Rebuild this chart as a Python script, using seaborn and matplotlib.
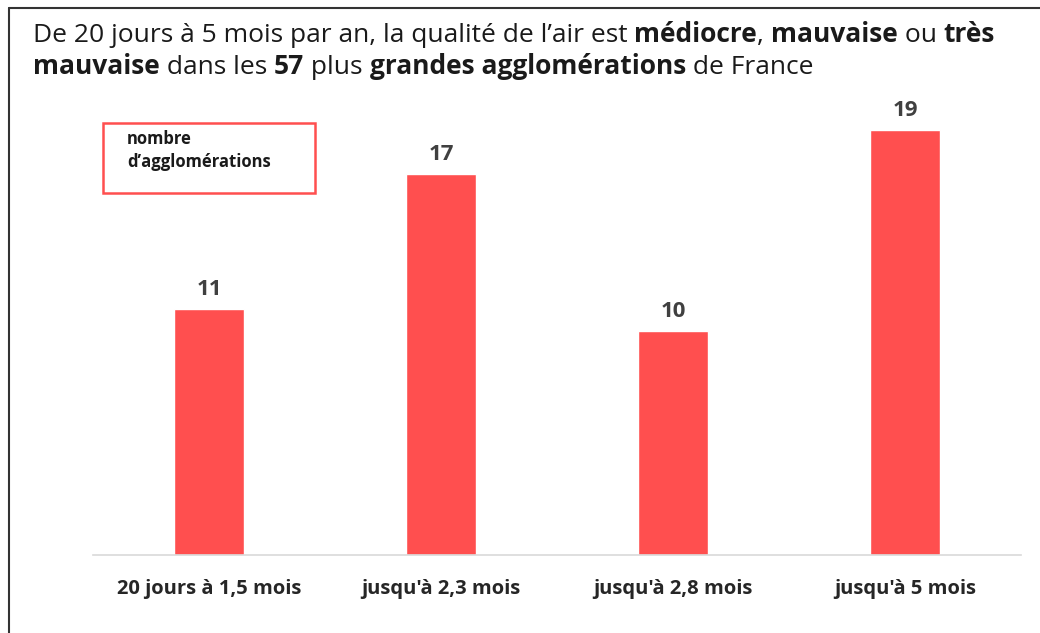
import matplotlib
matplotlib.use("Agg")
import matplotlib.pyplot as plt
import seaborn as sns
import pandas as pd
from matplotlib.patches import Rectangle

# === Data ===
categories = ["20 jours à 1,5 mois", "jusqu'à 2,3 mois", "jusqu'à 2,8 mois", "jusqu'à 5 mois"]
counts = [11, 17, 10, 19]

title_line1 = [("De 20 jours à 5 mois par an, la qualité de l’air est ", False),
               ("médiocre", True), (", ", False), ("mauvaise", True),
               (" ou ", False), ("très", True)]
title_line2 = [("mauvaise", True), (" dans les ", False), ("57", True),
               (" plus ", False), ("grandes agglomérations", True), (" de France", False)]
legend_text = "nombre\nd’agglomérations"

BAR_COLOR = "#FF4F4F"

sns.set_theme(style="white")
plt.rcParams["font.family"] = ["Open Sans", "DejaVu Sans"]

df = pd.DataFrame({"cat": categories, "n": counts})

fig = plt.figure(figsize=(10.4, 6.33), dpi=100)
W, H = 1040, 633
ax = fig.add_axes([93 / W, 1 - 555 / H, (1021 - 93) / W, (555 - 96) / H])

sns.barplot(data=df, x="cat", y="n", color=BAR_COLOR, width=0.30, saturation=1, ax=ax)
ax.set_xlim(-0.5, 3.5)
ax.set_ylim(0, 20.5)
ax.set_xlabel("")
ax.set_ylabel("")
ax.set_yticks([])
for s in ["top", "right", "left"]:
    ax.spines[s].set_visible(False)
ax.spines["bottom"].set_color("#d9d9d9")
ax.spines["bottom"].set_linewidth(1.2)
ax.tick_params(axis="x", length=0, pad=17)
for lab in ax.get_xticklabels():
    lab.set_fontweight("bold")
    lab.set_fontsize(14.5)
    lab.set_color("#262626")

for i, v in enumerate(counts):
    ax.text(i, v + 0.4, str(v), ha="center", va="bottom", fontsize=16,
            fontweight="bold", color="#404040")

# legend-like box
fig.patches.append(Rectangle((103 / W, 1 - 193 / H), (315 - 103) / W, (193 - 123) / H,
                             transform=fig.transFigure, fill=False,
                             edgecolor="#FF4F4F", linewidth=1.8))
fig.text(127 / W, 1 - 130 / H, legend_text, ha="left", va="top", fontsize=12,
         fontweight="bold", color="#1a1a1a", linespacing=1.35)

# outer frame lines (top and left)
fig.add_artist(plt.Line2D([9 / W, 1], [1 - 8 / H, 1 - 8 / H], transform=fig.transFigure,
                          color="#333333", linewidth=1.5))
fig.add_artist(plt.Line2D([9 / W, 9 / W], [0, 1 - 8 / H], transform=fig.transFigure,
                          color="#333333", linewidth=1.5))

# title with mixed weights
renderer = fig.canvas.get_renderer()


def draw_line(pieces, x0, y0):
    x = x0
    for txt, bold in pieces:
        t = fig.text(x, y0, txt, ha="left", va="baseline", fontsize=19,
                     fontweight="bold" if bold else "normal", color="#1a1a1a")
        bb = t.get_window_extent(renderer=renderer)
        x += bb.width / W


draw_line(title_line1, 33 / W, 1 - 42 / H)
draw_line(title_line2, 33 / W, 1 - 74 / H)

fig.savefig("out.png", dpi=100, facecolor="white")
